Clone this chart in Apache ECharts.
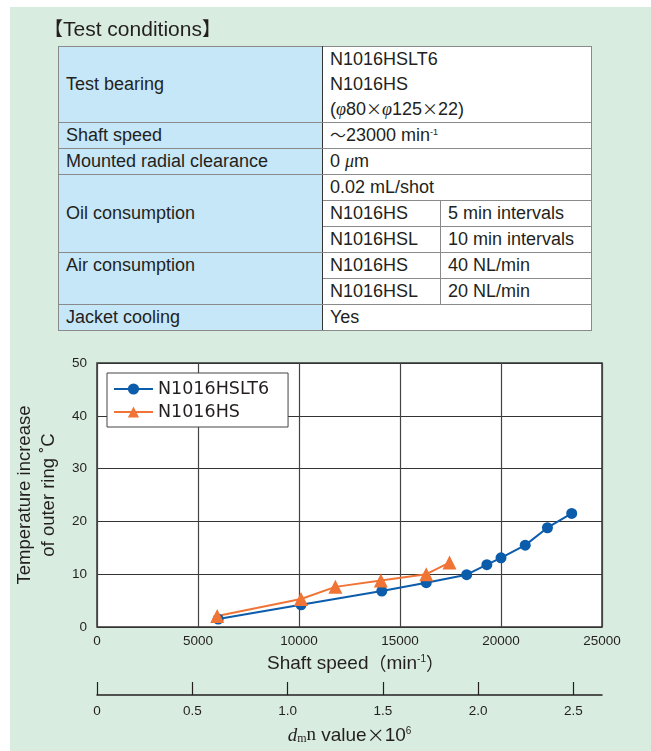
<!DOCTYPE html>
<html lang="en">
<head>
<meta charset="UTF-8">
<title>Test conditions</title>
<script src="https://cdn.jsdelivr.net/npm/echarts@6/dist/echarts.min.js"></script>
<style>
    body {
        margin: 0;
        width: 651px;
        height: 751px;
        position: relative;
        overflow: hidden;
        background: #fff;
        font-family: "Liberation Sans", Arial, "Noto Sans CJK JP", sans-serif;
        color: #231f20;
    }
    #bg { position: absolute; left: 10px; top: 7px; right: 0; bottom: 0; background: #d9ece0; }
    #chart { position: absolute; left: 0; top: 0; width: 651px; height: 751px; }
    #title { position: absolute; left: 44px; top: 16px; font-size: 21px; line-height: 26px; }
    .cjk { font-family: "Noto Sans CJK JP", sans-serif; line-height: 0; }
    #title .cjk { font-size: 19px; }
    table {
        position: absolute; left: 58px; top: 46px;
        border-collapse: collapse; table-layout: fixed;
        font-size: 18px; background: #fff;
        border: 1.5px solid #333;
    }
    td { border: 1px solid #8a8a8a; padding: 0 0 0 7px; height: 25px; line-height: 25px; white-space: nowrap; overflow: hidden; }
    td.h { background: #c6e7f8; border-right: 1.5px solid #333; }
    td.top { vertical-align: top; }
    td .cjk { font-size: 16px; }
    sup { font-size: 9px; vertical-align: 6px; line-height: 0; }
    .it { font-style: italic; font-family: "Liberation Serif", serif; line-height: 0; }
</style>
</head>
<body>
<div id="bg"></div>
<div id="chart"></div>
<div id="title"><span class="cjk">【</span>Test conditions<span class="cjk">】</span></div>
<table>
    <colgroup><col style="width:264px"><col style="width:118px"><col style="width:151px"></colgroup>
    <tr><td class="h" style="height:75px">Test bearing</td><td colspan="2" style="height:75px">N1016HSLT6<br>N1016HS<br>(<span class="it">φ</span>80<span class="cjk">×</span><span class="it">φ</span>125<span class="cjk">×</span>22)</td></tr>
    <tr><td class="h">Shaft speed</td><td colspan="2"><span class="cjk">～</span>23000 min<sup>-1</sup></td></tr>
    <tr><td class="h">Mounted radial clearance</td><td colspan="2">0 <span class="it">μ</span>m</td></tr>
    <tr><td class="h" rowspan="3">Oil consumption</td><td colspan="2">0.02 mL/shot</td></tr>
    <tr><td>N1016HS</td><td>5 min intervals</td></tr>
    <tr><td>N1016HSL</td><td>10 min intervals</td></tr>
    <tr><td class="h top" rowspan="2">Air consumption</td><td>N1016HS</td><td>40 NL/min</td></tr>
    <tr><td>N1016HSL</td><td>20 NL/min</td></tr>
    <tr><td class="h">Jacket cooling</td><td colspan="2">Yes</td></tr>
</table>
<script>
    // shaft speed (min-1) and outer ring temperature rise (°C)
    var seriesNames = ['N1016HSLT6', 'N1016HS'];
    var hsltSpeed = [6000, 10100, 14100, 16300, 18300, 19300, 20000, 21200, 22300, 23500];
    var hsltTemp = [1.5, 4.2, 6.8, 8.4, 9.9, 11.8, 13.1, 15.5, 18.8, 21.5];
    var hsSpeed = [5950, 10100, 11800, 14050, 16300, 17450];
    var hsTemp = [2.1, 5.3, 7.6, 8.8, 10.0, 12.2];
    var dmnTicks = [0, 0.5, 1.0, 1.5, 2.0, 2.5];

    var tickFont = '"Liberation Sans", Arial, sans-serif';
    var nameFont = '"Liberation Sans", Arial, "Noto Sans CJK JP", sans-serif';
    var cjkFont = '"Noto Sans CJK JP", sans-serif';

    function pairs(xs, ys) {
        return xs.map(function (x, i) { return [x, ys[i]]; });
    }

    var myChart = echarts.init(document.getElementById('chart'), null, {renderer: 'canvas'});
    var option = {
        backgroundColor: 'transparent',
        animation: false,
        legend: {
            left: 107, top: 373,
            orient: 'vertical',
            backgroundColor: '#fff',
            borderColor: '#444', borderWidth: 1,
            padding: [7, 19, 6, 6],
            itemWidth: 39, itemHeight: 14, itemGap: 5,
            textStyle: {fontSize: 17.5, lineHeight: 16, color: '#231f20', fontFamily: '"DejaVu Sans", sans-serif'},
            data: seriesNames
        },
        grid: [
            {left: 97, right: 49, top: 363, bottom: 124, show: true, backgroundColor: '#fff', borderColor: '#333', borderWidth: 1.5},
            {left: 97, right: 49, top: 694, height: 1}
        ],
        xAxis: [
            {
                gridIndex: 0, type: 'value', min: 0, max: 25000, interval: 5000,
                axisLine: {show: false}, axisTick: {show: false},
                splitLine: {lineStyle: {color: '#444', width: 1.2}},
                axisLabel: {
                    margin: 7, fontSize: 13.5, color: '#231f20', fontFamily: tickFont,
                    formatter: function (v) { return String(v); }
                },
                name: 'Shaft speed{p|（}min{sup|-1}{p|）}',
                nameLocation: 'middle', nameGap: 27,
                nameTextStyle: {
                    fontSize: 19, color: '#231f20', fontFamily: nameFont,
                    padding: [0, 0, 0, 12],
                    rich: {
                        p: {fontSize: 18, fontFamily: cjkFont},
                        sup: {fontSize: 10, verticalAlign: 'top', padding: [0, 0, 8, 0]}
                    }
                }
            },
            {
                gridIndex: 1, type: 'value', min: 0, max: 2.65, position: 'bottom',
                axisLine: {lineStyle: {color: '#231f20', width: 1.5}},
                axisTick: {inside: true, length: 13, customValues: dmnTicks, lineStyle: {color: '#231f20', width: 1.2}},
                splitLine: {show: false},
                axisLabel: {
                    customValues: dmnTicks, margin: 9, fontSize: 13.5, color: '#231f20', fontFamily: tickFont,
                    formatter: function (v) { return v === 0 ? '0' : v.toFixed(1); }
                },
                name: '{d|d}{m|m}{n|n} value{x|×}10{sup|6}',
                nameLocation: 'middle', nameGap: 31,
                nameTextStyle: {
                    fontSize: 19, color: '#231f20', fontFamily: nameFont,
                    rich: {
                        d: {fontSize: 19, fontStyle: 'italic', fontFamily: '"Liberation Serif", serif'},
                        m: {fontSize: 12, fontFamily: '"Liberation Serif", serif', verticalAlign: 'bottom'},
                        n: {fontSize: 19, fontFamily: '"Liberation Serif", serif'},
                        x: {fontSize: 18, fontFamily: cjkFont},
                        sup: {fontSize: 10, verticalAlign: 'top', padding: [0, 0, 8, 0]}
                    }
                }
            }
        ],
        yAxis: [
            {
                gridIndex: 0, type: 'value', min: 0, max: 50, interval: 10,
                axisLine: {show: false}, axisTick: {show: false},
                splitLine: {lineStyle: {color: '#333', width: 1.2}},
                axisLabel: {margin: 10, fontSize: 13.5, color: '#231f20', fontFamily: tickFont},
                name: 'Temperature increase\nof outer ring ˚C',
                nameLocation: 'middle', nameRotate: 90, nameGap: 30,
                nameTextStyle: {fontSize: 18.5, lineHeight: 24, color: '#231f20', fontFamily: nameFont}
            },
            {gridIndex: 1, type: 'value', show: false, min: 0, max: 1}
        ],
        series: [
            {
                name: seriesNames[0], type: 'line', xAxisIndex: 0, yAxisIndex: 0,
                data: pairs(hsltSpeed, hsltTemp),
                symbol: 'circle', symbolSize: 11,
                itemStyle: {color: '#0b5cab'},
                lineStyle: {color: '#0b5cab', width: 2}
            },
            {
                name: seriesNames[1], type: 'line', xAxisIndex: 0, yAxisIndex: 0,
                data: pairs(hsSpeed, hsTemp),
                symbol: 'triangle', symbolSize: 14,
                itemStyle: {color: '#f07436'},
                lineStyle: {color: '#f07436', width: 2}
            }
        ]
    };
    myChart.setOption(option);
</script>
</body>
</html>
